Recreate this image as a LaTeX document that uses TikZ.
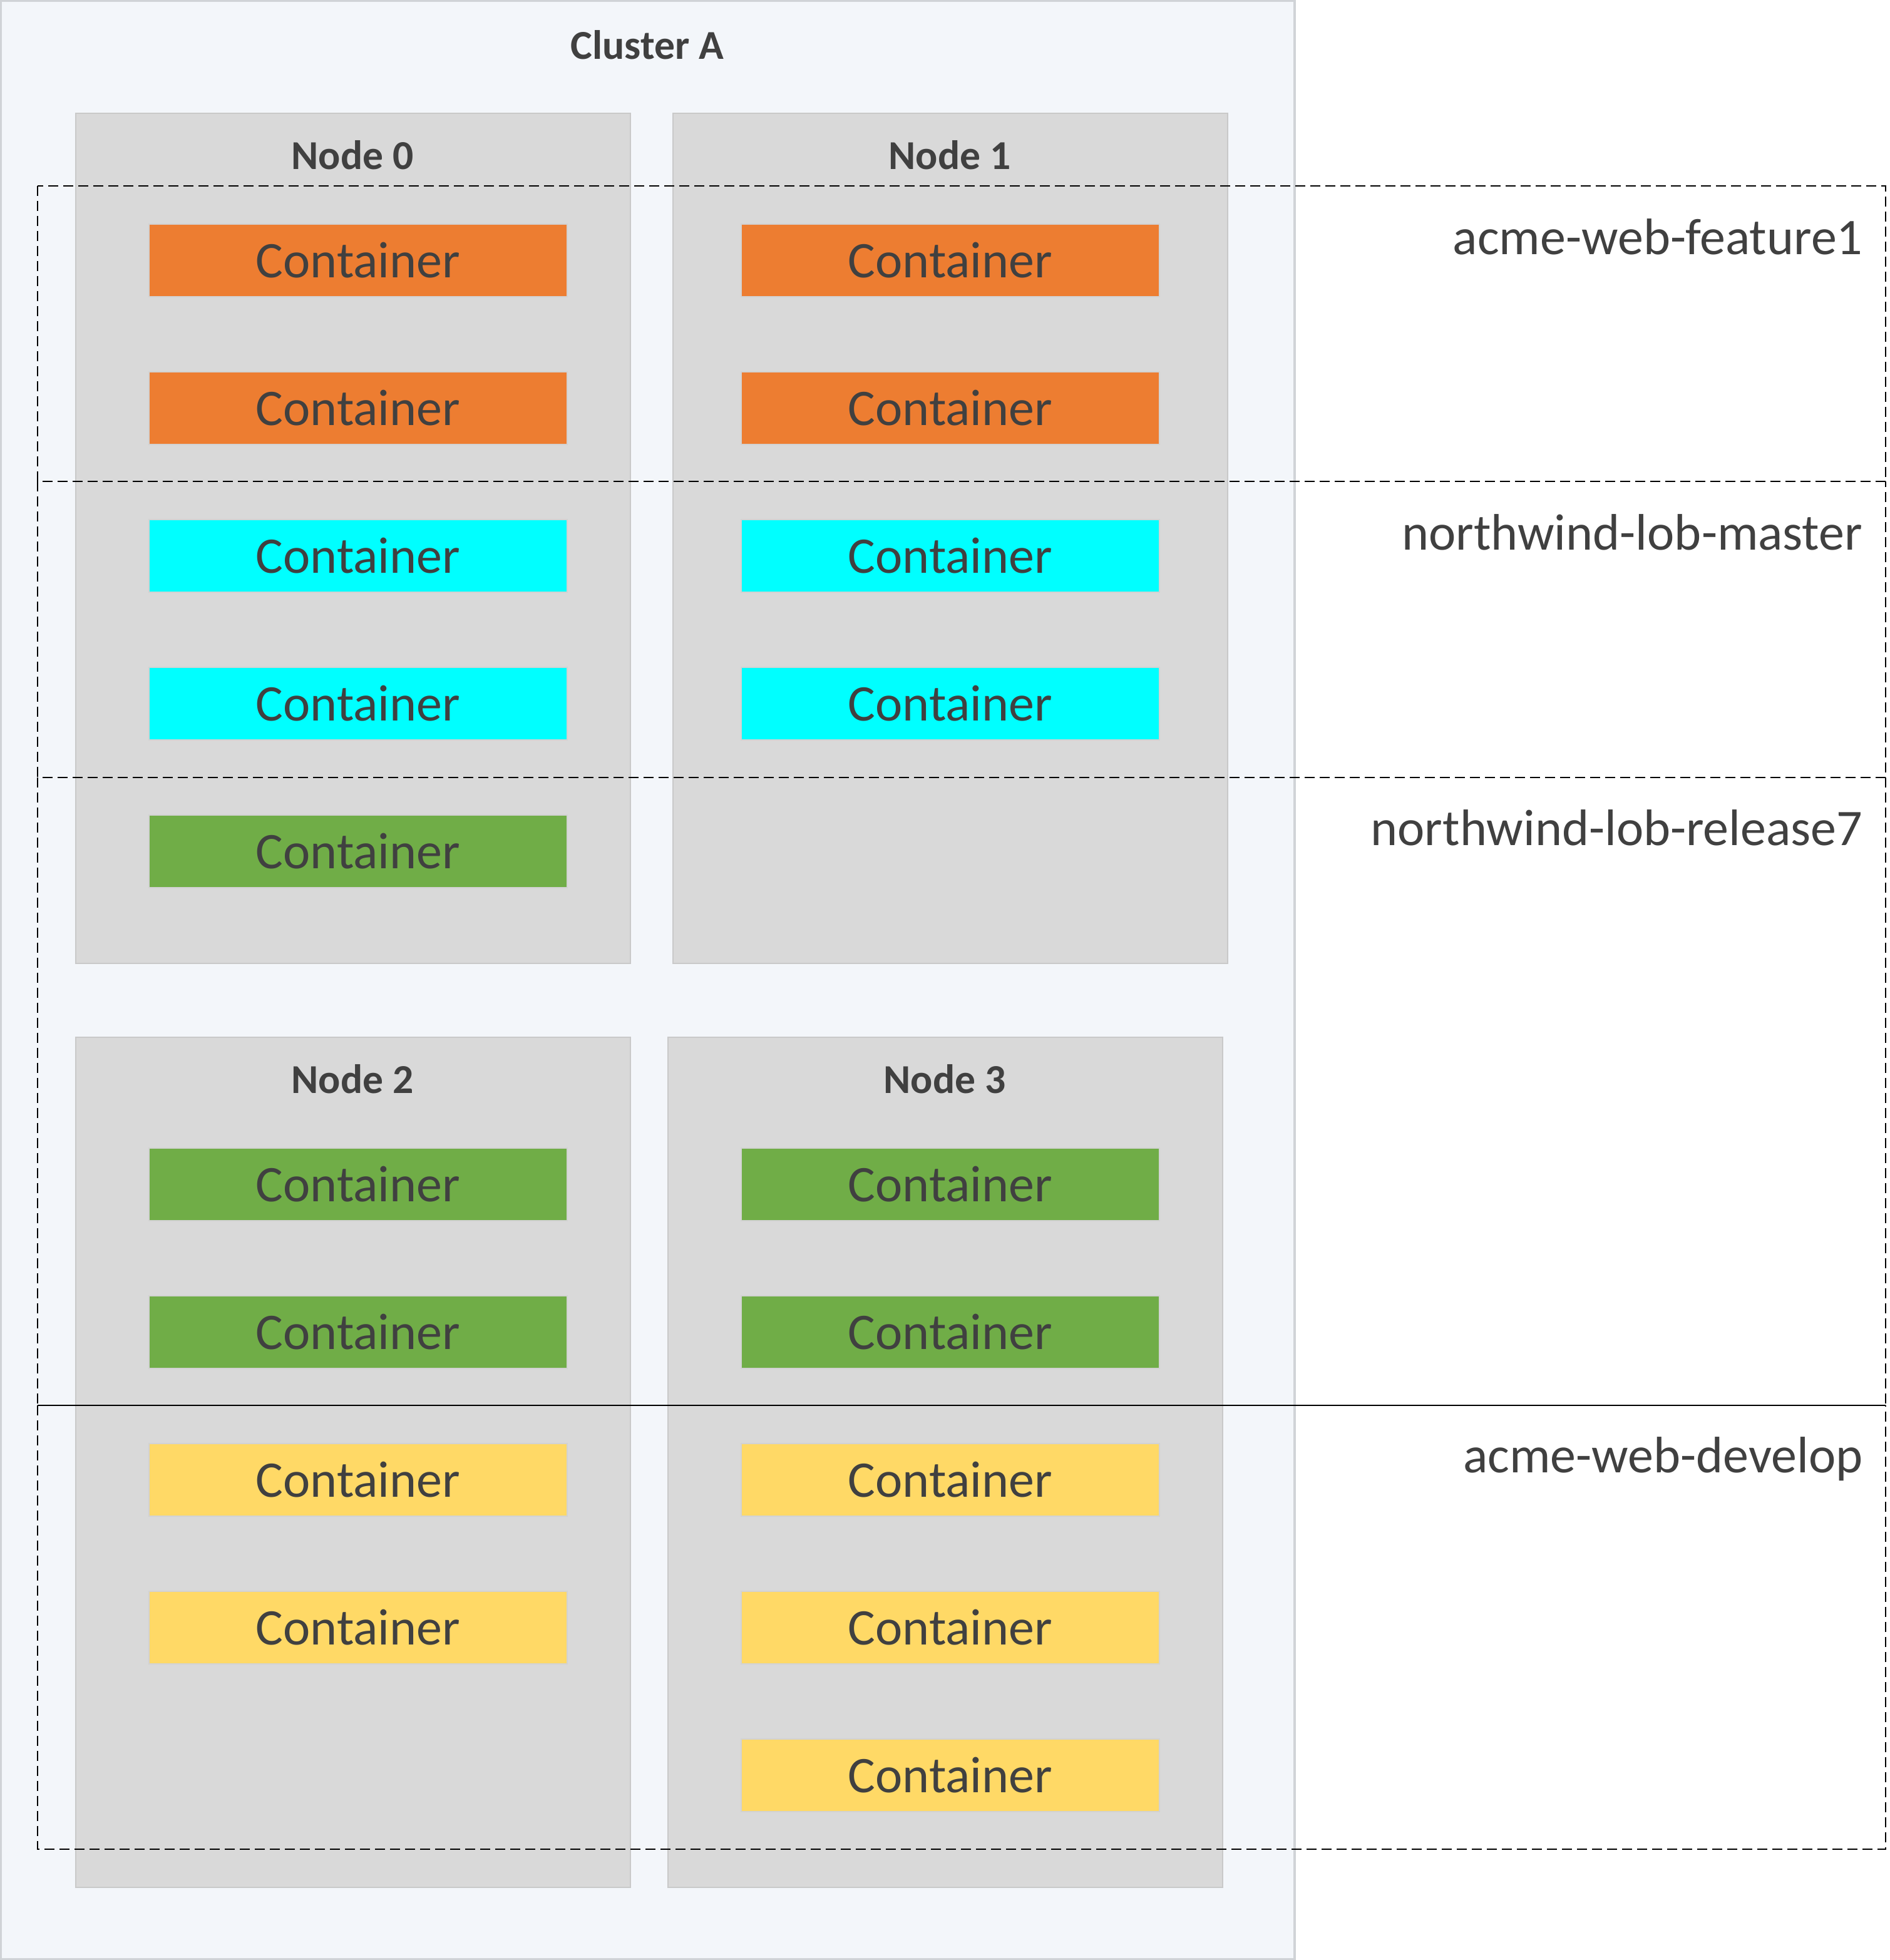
\documentclass[tikz,border=0pt]{standalone}
\usepackage{fontspec}
\setmainfont{Carlito}
\definecolor{clusterfill}{HTML}{F3F6FA}
\definecolor{clusterline}{HTML}{D0D3D7}
\definecolor{nodefill}{HTML}{D9D9D9}
\definecolor{nodeline}{HTML}{C9C9C9}
\definecolor{txt}{HTML}{404040}
\definecolor{corange}{HTML}{ED7D31}
\definecolor{ccyan}{HTML}{00FFFF}
\definecolor{cgreen}{HTML}{70AD47}
\definecolor{cyellow}{HTML}{FFD966}
\definecolor{cline}{HTML}{D2D2D2}
\tikzset{
  nodebox/.style={draw=nodeline, fill=nodefill, line width=0.6pt, anchor=north west,
    minimum width=221.5pt, minimum height=339.5pt, inner sep=0pt},
  cont/.style={draw=cline, line width=0.6pt, minimum width=167pt, minimum height=29pt,
    inner sep=0pt, text=txt, font=\fontsize{20.5pt}{24pt}\selectfont},
  boldlabel/.style={anchor=base, text=txt, inner sep=0pt,
    font=\fontsize{16.4pt}{19pt}\selectfont\bfseries},
  grplabel/.style={anchor=base east, text=txt, inner sep=0pt,
    font=\fontsize{20.5pt}{24pt}\selectfont},
  grpline/.style={draw=black, line width=0.5pt, dash pattern=on 4pt off 2pt}
}
\begin{document}
\begin{tikzpicture}[x=0.5pt,y=-0.5pt]
\useasboundingbox (0,0) rectangle (1509.5,1565.5);
% cluster
\draw[draw=clusterline, fill=clusterfill, line width=0.8pt] (0.7,0.7) rectangle (1034,1564.8);
\node[boldlabel] (clusterlbl) at (517,47) {Cluster A};
% nodes
\node[nodebox] (n0) at (60,90) {};
\node[nodebox] (n1) at (537,90) {};
\node[nodebox] (n2) at (60,828) {};
\node[nodebox] (n3) at (533,828) {};
\node[boldlabel] (n0lbl) at (281.5,135) {Node 0};
\node[boldlabel] (n1lbl) at (758.5,135) {Node 1};
\node[boldlabel] (n2lbl) at (281.5,873) {Node 2};
\node[boldlabel] (n3lbl) at (754.5,873) {Node 3};
% containers
\node[cont, fill=corange] (c01) at (286,208) {Container};
\node[cont, fill=corange] (c02) at (286,326) {Container};
\node[cont, fill=ccyan]   (c03) at (286,444) {Container};
\node[cont, fill=ccyan]   (c04) at (286,562) {Container};
\node[cont, fill=cgreen]  (c05) at (286,680) {Container};
\node[cont, fill=corange] (c11) at (759,208) {Container};
\node[cont, fill=corange] (c12) at (759,326) {Container};
\node[cont, fill=ccyan]   (c13) at (759,444) {Container};
\node[cont, fill=ccyan]   (c14) at (759,562) {Container};
\node[cont, fill=cgreen]  (c21) at (286,946) {Container};
\node[cont, fill=cgreen]  (c22) at (286,1064) {Container};
\node[cont, fill=cyellow] (c23) at (286,1182) {Container};
\node[cont, fill=cyellow] (c24) at (286,1300) {Container};
\node[cont, fill=cgreen]  (c31) at (759,946) {Container};
\node[cont, fill=cgreen]  (c32) at (759,1064) {Container};
\node[cont, fill=cyellow] (c33) at (759,1182) {Container};
\node[cont, fill=cyellow] (c34) at (759,1300) {Container};
\node[cont, fill=cyellow] (c35) at (759,1418) {Container};
% groups
\draw[grpline] (30,148.5) rectangle (1506,384.7);
\draw[grpline] (30,384.7) -- (30,620.8) -- (1506,620.8) -- (1506,384.7);
\draw[grpline] (30,620.8) -- (30,1122.5);
\draw[grpline] (1506,620.8) -- (1506,1122.5);
\draw[grpline] (30,1122.5) -- (30,1477) -- (1506,1477) -- (1506,1122.5);
\draw[draw=black, line width=0.5pt] (30,1122.5) -- (1506,1122.5);
\node[grplabel] (g1) at (1488,203) {acme-web-feature1};
\node[grplabel] (g2) at (1488,439) {northwind-lob-master};
\node[grplabel] (g3) at (1488,675) {northwind-lob-release7};
\node[grplabel] (g4) at (1488,1176) {acme-web-develop};
\end{tikzpicture}
\end{document}
